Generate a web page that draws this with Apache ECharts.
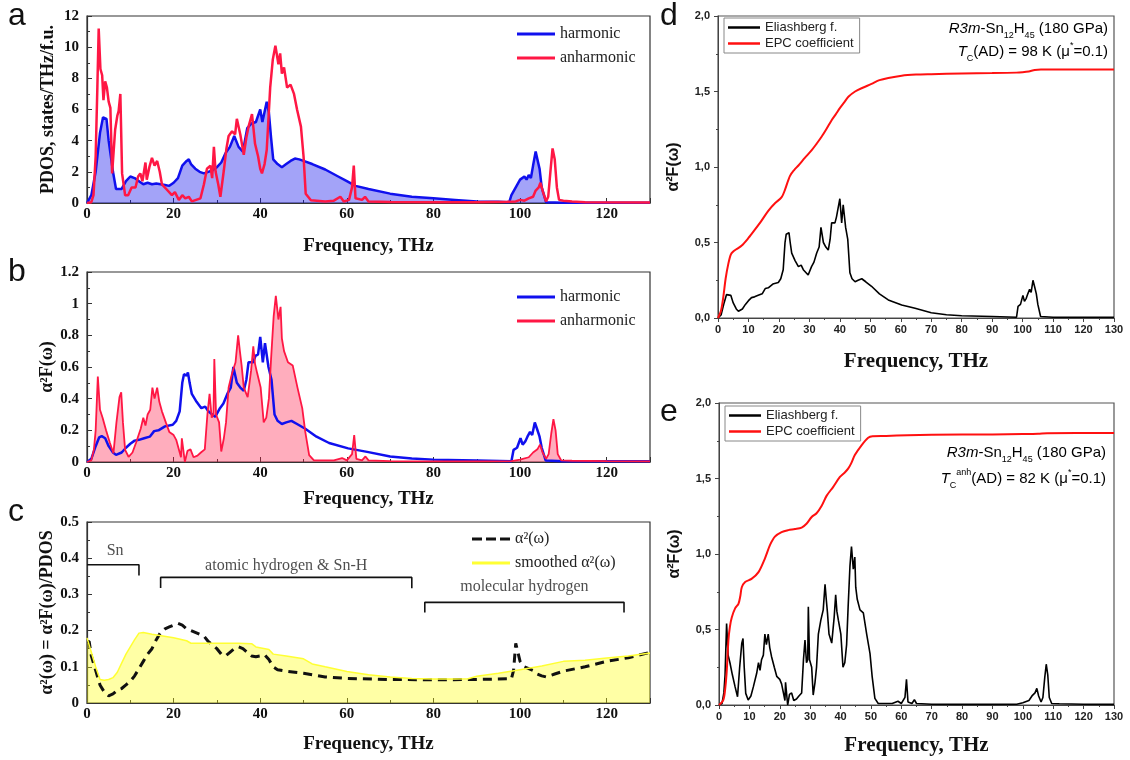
<!DOCTYPE html>
<html>
<head>
<meta charset="UTF-8">
<title>Sn12H45 phonons</title>
<script src="https://cdn.jsdelivr.net/npm/echarts@6/dist/echarts.min.js"></script>
<style>
  html, body { margin: 0; padding: 0; background: #fff; }
  #main { width: 1130px; height: 760px; }
</style>
</head>
<body>
<div id="main"></div>
<script>
// ---- data: [frequency THz, value] ----
// a: phonon DOS
var pdosHarmonic = [[0,0],[1,0.5],[2,2],[3,4.5],[3.7,5.5],[4.5,5.4],[5,4],[6,2],[6.7,0.9],[8,0.9],[9,1.4],[10,1.7],[11,1.6],[12,1.4],[13,1.2],[14,1.3],[15,1.2],[16,1.25],[17,1.2],[18,1.15],[19,1.1],[20,1.3],[21,1.6],[22,2.4],[23,2.7],[23.5,2.8],[24,2.5],[25,2.2],[26,2.0],[27,1.9],[28,2.0],[29,2.1],[30,2.3],[31,2.6],[32,3.2],[33,3.6],[34,4.3],[35,3.6],[36,3.3],[37,4.8],[38,5.1],[39,5.2],[40,6.0],[40.5,5.2],[41.5,6.5],[42,5.8],[42.5,4.2],[43,2.8],[44,2.5],[45,2.3],[46,2.5],[47,2.7],[48,2.85],[49,2.8],[50,2.7],[52,2.5],[55,2.15],[58,1.7],[60,1.4],[62,1.1],[65,0.9],[70,0.6],[75,0.4],[80,0.3],[85,0.2],[90,0.1],[95,0.08],[97.5,0.05],[98,0.5],[99,1.0],[100,1.5],[101,1.7],[101.5,1.5],[102,1.8],[102.5,1.6],[103,2.4],[103.6,3.3],[104,2.8],[104.5,2.2],[105,1.0],[106,0.05],[110,0.02],[130,0.02]];
var pdosAnharmonic = [[0,0],[1,0.05],[1.5,0.5],[2,3],[2.4,7.5],[2.7,11.2],[3.1,8.6],[3.5,8.2],[3.8,6.6],[4.2,7.8],[4.6,7.4],[5,6.5],[5.4,6.1],[5.8,1.9],[6.2,3.5],[6.5,4.7],[7,5.6],[7.3,5.9],[7.7,7.0],[8.1,1.9],[8.8,0.5],[9.5,0.5],[10.3,1.0],[11.2,1.0],[11.8,1.7],[12.3,1.9],[12.8,1.4],[13.5,2.6],[13.8,1.5],[14.4,2.3],[15,2.9],[15.6,2.4],[16.2,2.7],[16.8,2.0],[17.3,1.2],[18.3,0.9],[19.6,0.5],[20.3,0.7],[21.2,0.2],[22,0.5],[22.7,0.3],[23.5,0.4],[24.2,0.1],[25.2,0.2],[26.2,0.3],[27,1.2],[27.7,2.2],[28.5,2.4],[28.9,1.6],[29.3,3.6],[29.7,2.0],[30.3,1.2],[30.8,0.4],[31.6,2.1],[32.2,3.5],[32.7,4.3],[33.5,4.6],[34.2,4.4],[34.6,5.4],[35.4,4.4],[36.2,3.1],[36.8,4.2],[37.3,4.9],[38.1,5.7],[38.8,3.8],[39.5,3.0],[40.0,2.2],[40.4,1.9],[41,2.5],[41.5,3.4],[42.3,7.4],[42.9,9.2],[43.5,10.1],[44.2,8.9],[44.6,9.6],[45,8.3],[45.5,8.7],[46.2,7.4],[47,7.6],[47.8,7.0],[48.5,6.0],[49.4,4.9],[50,3.0],[50.5,0.6],[51.7,0.17],[55,0.1],[57,0.15],[58.5,0.4],[59.3,0.1],[60.5,0.2],[61.2,1.0],[61.6,2.4],[62,0.3],[63.5,0.2],[64.2,0.4],[65,0.1],[70,0.06],[80,0.05],[90,0.05],[97,0.08],[99,0.1],[100,0.2],[101,0.15],[102,0.3],[103,0.4],[103.6,0.8],[104.3,1.0],[104.7,1.3],[105.3,0.7],[106,0.1],[106.5,0.4],[107,2.0],[107.5,3.5],[108,2.8],[108.5,1.0],[109,0.2],[110,0.15],[112,0.1],[115,0.05],[130,0.03]];

// b, d, e: Eliashberg function a2F
var a2fHarmonic = [[0,0],[1,0.02],[2,0.1],[2.8,0.155],[3.4,0.163],[4.2,0.15],[5,0.1],[6,0.06],[6.7,0.045],[8,0.06],[9,0.09],[10,0.115],[11,0.135],[12,0.14],[13.2,0.15],[14.5,0.16],[15.5,0.195],[16.5,0.2],[18,0.225],[19.8,0.235],[20.6,0.26],[21.4,0.32],[22,0.5],[22.4,0.555],[23,0.545],[23.3,0.565],[23.7,0.5],[24.2,0.43],[25.3,0.38],[26.4,0.34],[27.3,0.35],[28,0.32],[29.6,0.285],[30.7,0.34],[31.5,0.37],[32.4,0.43],[33.2,0.47],[33.8,0.6],[34.6,0.5],[35.4,0.47],[36.2,0.45],[36.8,0.52],[37.3,0.63],[38.4,0.63],[38.9,0.67],[39.5,0.68],[40,0.79],[40.6,0.63],[41.1,0.75],[41.9,0.6],[42.6,0.52],[43.3,0.3],[44,0.26],[45,0.24],[46,0.25],[47.2,0.26],[48.5,0.24],[50.4,0.21],[53,0.16],[55.9,0.12],[60.3,0.086],[64.7,0.064],[70,0.035],[75,0.022],[80,0.015],[90,0.01],[98,0.005],[98.5,0.077],[99.3,0.09],[100.1,0.15],[100.6,0.11],[101.2,0.13],[101.7,0.16],[102.3,0.19],[102.8,0.17],[103.4,0.25],[103.9,0.21],[104.5,0.16],[105,0.09],[105.9,0.01],[110,0.005],[130,0.005]];
var a2fAnharmonic = [[0,0],[1,0.01],[1.6,0.08],[2,0.2],[2.5,0.54],[3,0.33],[3.6,0.28],[4.4,0.2],[5.3,0.12],[6.1,0.055],[6.8,0.25],[7.5,0.41],[7.9,0.44],[8.3,0.25],[8.8,0.077],[9.6,0.033],[10.5,0.06],[11.3,0.12],[12.4,0.21],[13,0.28],[13.5,0.23],[14,0.3],[14.6,0.33],[15.1,0.47],[15.6,0.4],[16.2,0.47],[16.7,0.38],[17.3,0.32],[18.2,0.25],[19,0.19],[20,0.17],[20.6,0.14],[21.2,0.08],[21.7,0.03],[21.9,0.15],[22.6,0],[23.2,0.07],[23.9,0.08],[24.6,0.03],[25.5,0.04],[26.3,0.06],[27.2,0.08],[27.8,0.3],[28.3,0.43],[28.8,0.28],[29.2,0.3],[29.4,0.65],[29.8,0.3],[30.5,0.25],[31,0.066],[31.6,0.15],[32.1,0.25],[32.7,0.47],[33.5,0.56],[34.3,0.63],[34.9,0.8],[35.3,0.7],[35.7,0.61],[36.2,0.47],[37.1,0.41],[37.9,0.58],[38.4,0.73],[38.8,0.62],[39.3,0.56],[40.1,0.47],[40.8,0.25],[41.4,0.28],[42,0.4],[42.5,0.65],[43.1,0.92],[43.6,1.05],[44.2,0.9],[44.7,0.98],[45,0.78],[45.5,0.7],[46.4,0.63],[47.5,0.61],[48.6,0.47],[49.7,0.34],[50.4,0.19],[51.3,0.044],[52.4,0.01],[55,0.01],[57,0.01],[58.9,0.025],[60,0.01],[61.2,0.05],[61.7,0.17],[62.2,0.02],[63.5,0.01],[64.3,0.035],[65,0.01],[70,0.005],[80,0.004],[90,0.004],[98,0.005],[100,0.015],[102,0.03],[103,0.06],[104,0.08],[104.6,0.11],[105.2,0.06],[106,0.02],[106.6,0.05],[107.2,0.18],[107.7,0.27],[108.2,0.2],[108.7,0.05],[109.5,0.01],[112,0.008],[120,0.005],[130,0.004]];

// d, e: cumulative EPC coefficient lambda
var lambdaHarmonic = [[0,0],[1,0.05],[1.75,0.14],[2.5,0.26],[3.4,0.36],[4.2,0.42],[5,0.44],[6,0.455],[7.8,0.48],[10,0.53],[12.1,0.585],[14.3,0.645],[16.5,0.71],[18.7,0.76],[20.9,0.8],[22,0.85],[23.6,0.94],[25,0.98],[26.4,1.01],[28.5,1.06],[30.7,1.11],[32.4,1.155],[34,1.2],[35.7,1.255],[37.3,1.31],[38.7,1.35],[40,1.39],[41.5,1.43],[42.8,1.465],[45,1.5],[47.5,1.525],[50.4,1.55],[53,1.575],[55.9,1.59],[60.3,1.605],[65,1.612],[70,1.615],[80,1.62],[90,1.622],[98,1.625],[100,1.628],[102,1.633],[104,1.642],[106,1.645],[130,1.645]];
var lambdaAnharmonic = [[0,0],[1.4,0.033],[2,0.1],[2.5,0.21],[3.1,0.43],[3.6,0.52],[4.2,0.58],[5.3,0.64],[6.4,0.67],[7,0.72],[7.5,0.78],[8.6,0.815],[10.7,0.835],[13,0.88],[15.1,0.97],[16.8,1.06],[18.4,1.115],[20.6,1.145],[22.8,1.158],[25,1.165],[27.2,1.175],[28.8,1.2],[30.5,1.245],[32.1,1.27],[33.8,1.32],[35.4,1.385],[37.6,1.445],[39.8,1.51],[41.4,1.54],[42.5,1.565],[43.5,1.6],[44.7,1.655],[46.9,1.72],[49.1,1.77],[50.5,1.78],[55,1.782],[62,1.787],[70,1.79],[90,1.792],[100,1.795],[105,1.797],[108,1.8],[130,1.802]];

// c: alpha^2(w) = a2F/PDOS
var alphaSq = [[0,0.17],[0.5,0.17],[1,0.13],[2,0.09],[3,0.05],[4,0.03],[5,0.02],[6,0.025],[7,0.035],[8,0.04],[9,0.05],[10,0.06],[11,0.075],[12,0.095],[13,0.115],[14,0.135],[15,0.15],[16,0.175],[17,0.195],[18,0.205],[19,0.21],[20,0.215],[21,0.22],[22,0.215],[23,0.205],[24,0.2],[25,0.195],[26,0.19],[27,0.185],[28,0.17],[29,0.16],[30,0.15],[31,0.135],[32,0.13],[33,0.14],[34,0.15],[35,0.155],[36,0.15],[37,0.14],[38,0.13],[39,0.128],[40,0.13],[41,0.133],[42,0.12],[43,0.1],[44,0.092],[46,0.088],[48,0.085],[50,0.082],[55,0.072],[60,0.068],[70,0.065],[80,0.064],[90,0.065],[98,0.067],[98.5,0.09],[99,0.165],[99.5,0.14],[100,0.115],[101,0.1],[102,0.095],[103,0.09],[104,0.08],[105,0.075],[106,0.072],[108,0.08],[110,0.088],[115,0.1],[120,0.115],[125,0.125],[130,0.14]];
var alphaSqSmoothed = [[0,0.18],[1,0.14],[2,0.1],[3,0.065],[4,0.063],[5,0.065],[6,0.07],[7,0.085],[8,0.11],[9,0.135],[10,0.155],[11,0.175],[12,0.193],[13,0.195],[15,0.19],[20,0.18],[23,0.172],[24,0.165],[30,0.165],[35,0.165],[38,0.164],[39,0.155],[42,0.148],[43,0.135],[46,0.13],[50,0.122],[52,0.108],[55,0.1],[60,0.087],[65,0.078],[70,0.072],[75,0.068],[80,0.066],[85,0.066],[88,0.067],[90,0.074],[95,0.082],[100,0.092],[105,0.102],[110,0.115],[115,0.118],[120,0.124],[125,0.13],[130,0.138]];

// c: region brackets and their captions
var snBracket = [[0,0.382],[12,0.382],[12,0.352]];
var atomicBracket = [[17,0.318],[17,0.347],[75,0.347],[75,0.317]];
var molecularBracket = [[78,0.25],[78,0.278],[124,0.278],[124,0.25]];
var bracketLabels = [[6.5,0.42,'Sn'],[46,0.38,'atomic hydrogen & Sn-H'],[101,0.32,'molecular hydrogen']];

var serif = '"Liberation Serif", "Times New Roman", serif';
var sans = '"Liberation Sans", Arial, sans-serif';
var BLUE = '#1010ee';
var RED = '#ff1744';

var myChart = echarts.init(document.getElementById('main'), null, {renderer: 'canvas'});

// axes of panels a, b, c (serif bold, ticks inside)
function xAxisLeft(grid, gap) {
  return {
    gridIndex: grid, type: 'value', min: 0, max: 130, interval: 20,
    name: 'Frequency, THz', nameLocation: 'middle', nameGap: gap,
    nameTextStyle: {fontFamily: serif, fontWeight: 'bold', fontSize: 19, color: '#111'},
    axisLine: {lineStyle: {color: '#333', width: 1.2}},
    axisTick: {inside: true, length: 5, lineStyle: {color: '#333'}},
    minorTick: {show: true, splitNumber: 2, length: 3, lineStyle: {color: '#333'}},
    axisLabel: {fontFamily: serif, fontWeight: 'bold', fontSize: 15, color: '#111', margin: 4, showMaxLabel: false},
    splitLine: {show: false}
  };
}
function yAxisLeft(grid, max, step, name) {
  return {
    gridIndex: grid, type: 'value', min: 0, max: max, interval: step,
    name: name, nameLocation: 'middle', nameGap: 30,
    nameTextStyle: {fontFamily: serif, fontWeight: 'bold', fontSize: 18, color: '#111'},
    axisLine: {lineStyle: {color: '#333', width: 1.2}},
    axisTick: {inside: true, length: 5, lineStyle: {color: '#333'}},
    minorTick: {show: true, splitNumber: 2, length: 3, lineStyle: {color: '#333'}},
    axisLabel: {fontFamily: serif, fontWeight: 'bold', fontSize: 15, color: '#111', margin: 8},
    splitLine: {show: false}
  };
}
// axes of panels d, e (sans bold, ticks outside)
function xAxisRight(grid, gap) {
  return {
    gridIndex: grid, type: 'value', min: 0, max: 130, interval: 10,
    name: 'Frequency, THz', nameLocation: 'middle', nameGap: gap,
    nameTextStyle: {fontFamily: serif, fontWeight: 'bold', fontSize: 21, color: '#111'},
    axisLine: {lineStyle: {color: '#444', width: 1}},
    axisTick: {inside: false, length: 4, lineStyle: {color: '#444'}},
    minorTick: {show: true, splitNumber: 2, length: 2, lineStyle: {color: '#444'}},
    axisLabel: {fontFamily: sans, fontWeight: 'bold', fontSize: 11, color: '#222', margin: 6},
    splitLine: {show: false}
  };
}
function yAxisRight(grid) {
  return {
    gridIndex: grid, type: 'value', min: 0, max: 2, interval: 0.5,
    name: 'α²F(ω)', nameLocation: 'middle', nameGap: 36,
    nameTextStyle: {fontFamily: sans, fontWeight: 'bold', fontSize: 16, color: '#111'},
    axisLine: {lineStyle: {color: '#444', width: 1}},
    axisTick: {inside: false, length: 4, lineStyle: {color: '#444'}},
    minorTick: {show: true, splitNumber: 2, length: 2, lineStyle: {color: '#444'}},
    axisLabel: {fontFamily: sans, fontWeight: 'bold', fontSize: 11, color: '#222', margin: 8,
      formatter: function (v) { return v.toFixed(1).replace('.', ','); }},
    splitLine: {show: false}
  };
}

function line(name, grid, data, color, width, extra) {
  var s = {
    name: name, type: 'line', xAxisIndex: grid, yAxisIndex: grid, data: data,
    showSymbol: false, symbol: 'none', animation: false,
    lineStyle: {color: color, width: width}, itemStyle: {color: color}
  };
  for (var k in extra) s[k] = extra[k];
  return s;
}
function bracket(data) {
  return {type: 'line', xAxisIndex: 2, yAxisIndex: 2, data: data, symbol: 'none', animation: false,
    lineStyle: {color: '#111', width: 1.6}, itemStyle: {color: '#111'}, z: 5, silent: true};
}

var legendBase = {
  orient: 'vertical', icon: 'rect', itemWidth: 38, itemHeight: 3, itemGap: 8,
  textStyle: {fontFamily: serif, fontSize: 16, color: '#222'},
  itemStyle: {borderWidth: 0}, selectedMode: false
};
function legendAt(left, top, data, extra) {
  var l = {left: left, top: top, data: data};
  for (var k in legendBase) l[k] = legendBase[k];
  for (var j in extra) l[j] = extra[j];
  return l;
}

function grid(l, t, w, h, c) {
  return {left: l, top: t, width: w, height: h, show: true, borderColor: c || '#333', borderWidth: 1.2, backgroundColor: 'transparent'};
}

var richAnno = {
  n: {fontFamily: sans, fontSize: 15, color: '#222', lineHeight: 22},
  it: {fontFamily: sans, fontSize: 15, fontStyle: 'italic', color: '#222', lineHeight: 22},
  sub: {fontFamily: sans, fontSize: 9, color: '#222', lineHeight: 9, verticalAlign: 'bottom'},
  sup: {fontFamily: sans, fontSize: 9, color: '#222', lineHeight: 9, verticalAlign: 'top'}
};
function anno(x, y, text) {
  return {type: 'text', x: x, y: y, style: {text: text, rich: richAnno, align: 'right', verticalAlign: 'middle'}};
}
function letter(x, y, t) {
  return {type: 'text', x: x, y: y, style: {text: t, fontFamily: sans, fontSize: 32, fill: '#111', align: 'left', verticalAlign: 'top'}};
}

var dashedIcon = 'path://M0,0H10V3H0Z M14,0H24V3H14Z M28,0H38V3H28Z';

var option = {
  backgroundColor: '#fff',
  animation: false,
  grid: [
    grid(87, 16, 563, 187),
    grid(87, 272, 563, 190),
    grid(87, 522, 563, 181),
    grid(718, 16, 396, 302, '#555'),
    grid(719, 403, 395, 302, '#555')
  ],
  xAxis: [xAxisLeft(0, 34), xAxisLeft(1, 28), xAxisLeft(2, 32), xAxisRight(3, 33), xAxisRight(4, 30)],
  yAxis: [
    yAxisLeft(0, 12, 2, 'PDOS, states/THz/f.u.'),
    yAxisLeft(1, 1.2, 0.2, 'α²F(ω)'),
    yAxisLeft(2, 0.5, 0.1, 'α²(ω) = α²F(ω)/PDOS'),
    yAxisRight(3),
    yAxisRight(4)
  ],
  legend: [
    legendAt(512, 21, ['harmonic', 'anharmonic']),
    legendAt(512, 284, ['harmonic', 'anharmonic']),
    legendAt(467, 526, [{name: 'α²(ω)', icon: dashedIcon}, 'smoothed α²(ω)']),
    legendAt(724, 18, ['Eliashberg f.', 'EPC coefficient'], {
      itemWidth: 32, itemHeight: 2.5, itemGap: 3, padding: [3, 6, 3, 4],
      borderColor: '#888', borderWidth: 1, backgroundColor: '#fff',
      textStyle: {fontFamily: sans, fontSize: 13, color: '#222'}}),
    legendAt(725, 406, ['Eliashberg f.', 'EPC coefficient'], {
      itemWidth: 32, itemHeight: 2.5, itemGap: 3, padding: [3, 6, 3, 4],
      borderColor: '#888', borderWidth: 1, backgroundColor: '#fff',
      textStyle: {fontFamily: sans, fontSize: 13, color: '#222'}})
  ],
  series: [
    // a
    line('harmonic', 0, pdosHarmonic, BLUE, 2.5, {areaStyle: {color: 'rgba(16,16,238,0.55)'}}),
    line('anharmonic', 0, pdosAnharmonic, RED, 2.5),
    // b
    line('harmonic', 1, a2fHarmonic, BLUE, 2.5),
    line('anharmonic', 1, a2fAnharmonic, RED, 1.8, {areaStyle: {color: 'rgba(255,23,68,0.5)'}}),
    // c
    line('α²(ω)', 2, alphaSq, '#111', 3, {lineStyle: {color: '#111', width: 3, type: [9, 6]}}),
    line('smoothed α²(ω)', 2, alphaSqSmoothed, '#ffff33', 1.5, {areaStyle: {color: 'rgba(255,255,0,0.5)'}}),
    bracket(snBracket),
    bracket(atomicBracket),
    bracket(molecularBracket),
    {type: 'scatter', xAxisIndex: 2, yAxisIndex: 2, data: bracketLabels, symbolSize: 0, silent: true, z: 6,
      label: {show: true, position: 'inside', formatter: function (p) { return p.value[2]; },
        fontFamily: serif, fontSize: 16, color: '#222'}},
    // d
    line('Eliashberg f.', 3, a2fHarmonic, '#000', 1.6),
    line('EPC coefficient', 3, lambdaHarmonic, '#ff1010', 2, {smooth: 0.3}),
    // e
    line('Eliashberg f.', 4, a2fAnharmonic, '#000', 1.6),
    line('EPC coefficient', 4, lambdaAnharmonic, '#ff1010', 2, {smooth: 0.3})
  ],
  graphic: [
    letter(8, 0, 'a'),
    letter(8, 256, 'b'),
    letter(8, 496, 'c'),
    letter(660, 0, 'd'),
    letter(660, 396, 'e'),
    anno(1108, 29, '{it|R3m}{n|-Sn}{sub|12}{n|H}{sub|45}{n| (180 GPa)}'),
    anno(1108, 52, '{it|T}{sub|C}{n|(AD) = 98 K (μ}{sup|*}{n|=0.1)}'),
    anno(1106, 453, '{it|R3m}{n|-Sn}{sub|12}{n|H}{sub|45}{n| (180 GPa)}'),
    anno(1106, 479, '{it|T}{sub|C}{sup|anh}{n|(AD) = 82 K (μ}{sup|*}{n|=0.1)}')
  ]
};

myChart.setOption(option);
</script>
</body>
</html>
